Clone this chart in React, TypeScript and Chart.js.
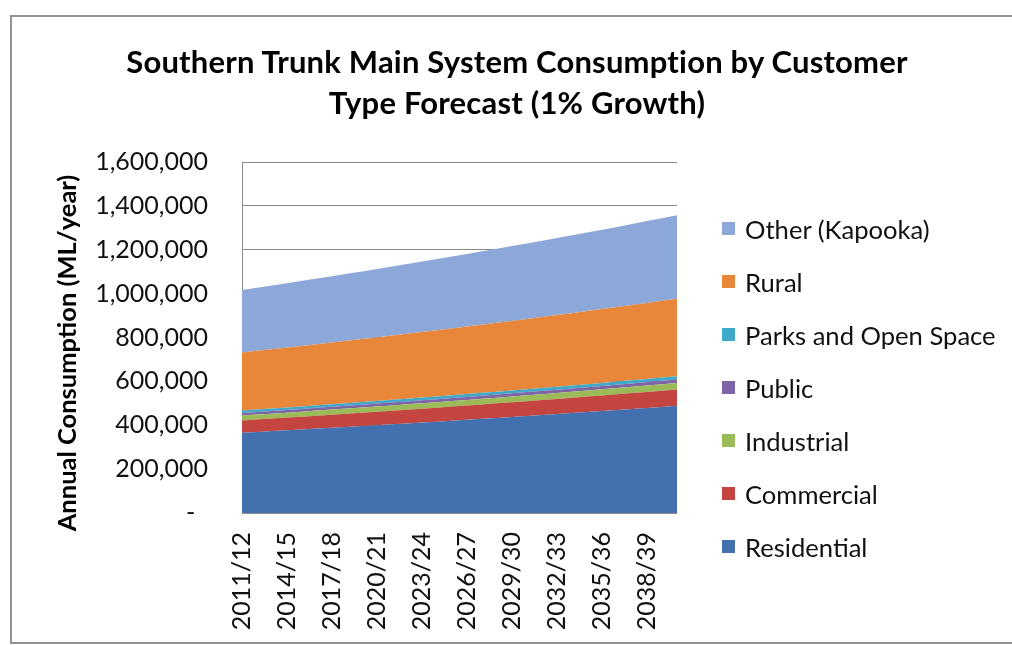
import React, { useEffect, useRef } from 'react';
import { Chart, registerables } from 'chart.js';

Chart.register(...registerables);

const years = [
  '2011/12', '2012/13', '2013/14', '2014/15', '2015/16', '2016/17', '2017/18', '2018/19', '2019/20', '2020/21',
  '2021/22', '2022/23', '2023/24', '2024/25', '2025/26', '2026/27', '2027/28', '2028/29', '2029/30', '2030/31',
  '2031/32', '2032/33', '2033/34', '2034/35', '2035/36', '2036/37', '2037/38', '2038/39', '2039/40', '2040/41',
];

const residential = [
  366000, 369700, 373400, 377100, 380900, 384700, 388500, 392400, 396300, 400300,
  404300, 408300, 412400, 416500, 420700, 424900, 429200, 433500, 437800, 442200,
  446600, 451100, 455600, 460100, 464700, 469400, 474100, 478800, 483600, 488400,
];
const commercial = [
  56000, 56600, 57100, 57700, 58300, 58900, 59400, 60000, 60600, 61200,
  61900, 62500, 63100, 63700, 64400, 65000, 65700, 66300, 67000, 67700,
  68300, 69000, 69700, 70400, 71100, 71800, 72500, 73300, 74000, 74700,
];
const industrial = [
  22000, 22200, 22400, 22700, 22900, 23100, 23400, 23600, 23800, 24100,
  24300, 24500, 24800, 25000, 25300, 25500, 25800, 26100, 26300, 26600,
  26800, 27100, 27400, 27700, 27900, 28200, 28500, 28800, 29100, 29400,
];
const publicUse = [
  12000, 12100, 12200, 12400, 12500, 12600, 12700, 12900, 13000, 13100,
  13300, 13400, 13500, 13700, 13800, 13900, 14100, 14200, 14400, 14500,
  14600, 14800, 14900, 15100, 15200, 15400, 15500, 15700, 15900, 16000,
];
const parks = [
  11000, 11100, 11200, 11300, 11400, 11600, 11700, 11800, 11900, 12000,
  12200, 12300, 12400, 12500, 12600, 12800, 12900, 13000, 13200, 13300,
  13400, 13600, 13700, 13800, 14000, 14100, 14200, 14400, 14500, 14700,
];
const rural = [
  265000, 267700, 270300, 273000, 275800, 278500, 281300, 284100, 287000, 289800,
  292700, 295700, 298600, 301600, 304600, 307700, 310700, 313800, 317000, 320100,
  323400, 326600, 329800, 333200, 336500, 339800, 343300, 346700, 350100, 353600,
];
const other = [
  285000, 287900, 290700, 293600, 296600, 299500, 302500, 305500, 308600, 311700,
  314800, 318000, 321100, 324400, 327600, 330900, 334200, 337500, 340900, 344300,
  347800, 351200, 354700, 358300, 361900, 365500, 369200, 372800, 376600, 380300,
];

const seriesNames = ['Residential', 'Commercial', 'Industrial', 'Public', 'Parks and Open Space', 'Rural', 'Other (Kapooka)'];
const seriesValues = [residential, commercial, industrial, publicUse, parks, rural, other];
const seriesColors = ['#4370AE', '#C4443F', '#9BBB59', '#7F65A8', '#3FA9C9', '#E8863A', '#8CA8D9'];

const titleLines = ['Southern Trunk Main System Consumption by Customer', 'Type Forecast (1% Growth)'];
const yAxisTitle = 'Annual Consumption (ML/year)';

const FONT = 'Lato, "Open Sans", sans-serif';

export default function App() {
  const ref = useRef<HTMLCanvasElement>(null);

  useEffect(() => {
    if (!ref.current) return;
    const chart = new Chart(ref.current, {
      type: 'line',
      data: {
        labels: years,
        datasets: seriesNames.map((name, i) => ({
          label: name,
          data: seriesValues[i],
          backgroundColor: seriesColors[i],
          borderColor: seriesColors[i],
          borderWidth: 0,
          pointRadius: 0,
          tension: 0,
          fill: i === 0 ? 'origin' : '-1',
        })),
      },
      options: {
        responsive: false,
        animation: false,
        layout: { padding: { top: 162, right: 335, bottom: 0, left: 0 } },
        plugins: {
          legend: { display: false },
          title: { display: false },
          tooltip: { enabled: false },
        },
        scales: {
          x: {
            offset: false,
            grid: { display: false, drawTicks: false },
            border: { display: false },
            ticks: {
              autoSkip: false,
              minRotation: 90,
              maxRotation: 90,
              padding: 19,
              color: '#111',
              font: { family: FONT, size: 25 },
              callback: (_v: any, i: number) => (i % 3 === 0 ? years[i] : ''),
            },
            afterFit: (s: any) => { s.height = 132; },
          },
          y: {
            stacked: true,
            min: 0,
            max: 1600000,
            grid: { color: '#8a8a8a', lineWidth: 1, drawTicks: false },
            border: { display: true, color: '#8a8a8a', width: 1 },
            ticks: {
              stepSize: 200000,
              padding: 34,
              color: '#111',
              font: { family: FONT, size: 25 },
              callback: (v: any) => (Number(v) === 0 ? '-  ' : Number(v).toLocaleString('en-US')),
            },
            title: {
              display: true,
              text: yAxisTitle + '     ',
              color: '#000',
              font: { family: FONT, size: 25.5, weight: 'bold', lineHeight: 1.2 },
              padding: { top: 52, bottom: 0 },
            },
            afterFit: (s: any) => { s.width = 242; },
          },
        },
      },
    });
    return () => chart.destroy();
  }, []);

  const legendItems = seriesNames.map((n, i) => ({ name: n, color: seriesColors[i] })).reverse();

  return (
    <div style={{ position: 'absolute', left: 0, top: 0, width: 1012, height: 645, overflow: 'hidden', background: '#fff', fontFamily: FONT }}>
      <div style={{ position: 'absolute', left: 10, top: 15, width: 1100, height: 629, border: '2px solid #939393', boxSizing: 'border-box' }} />
      <canvas ref={ref} width={1012} height={645} style={{ position: 'absolute', left: 0, top: 0 }} />
      <div style={{ position: 'absolute', left: 0, top: 41, width: 1034, textAlign: 'center', fontWeight: 'bold', fontSize: 31, letterSpacing: 0.2, lineHeight: '41px', color: '#000' }}>
        {titleLines.map((t) => (<div key={t}>{t}</div>))}
      </div>
      <div style={{ position: 'absolute', left: 722, top: 202, color: '#111', fontSize: 25.6 }}>
        {legendItems.map((it) => (
          <div key={it.name} style={{ display: 'flex', alignItems: 'center', height: 53, whiteSpace: 'nowrap' }}>
            <span style={{ display: 'inline-block', width: 13, height: 13, background: it.color, marginRight: 10 }} />
            <span>{it.name}</span>
          </div>
        ))}
      </div>
    </div>
  );
}
